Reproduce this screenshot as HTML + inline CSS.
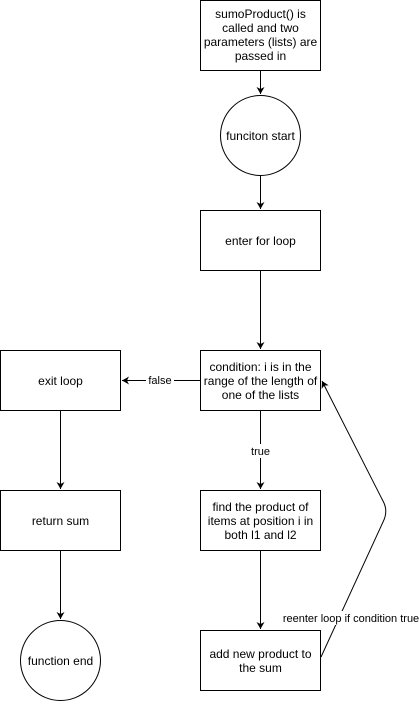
<!DOCTYPE html>
<html><head><style>html,body{margin:0;padding:0;background:#fff;}</style></head>
<body>
<svg width="419" height="701" xmlns="http://www.w3.org/2000/svg" font-family="Liberation Sans, Helvetica, Arial, sans-serif" font-size="12">
<defs>
<marker id="a" markerWidth="10" markerHeight="10" refX="8" refY="5" orient="auto" markerUnits="userSpaceOnUse">
<path d="M1,1 L8,5 L1,9 L3,5 Z" fill="#000"/>
</marker>
</defs>
<g fill="#fff" stroke="#000" stroke-width="1">
<rect x="200.5" y="0.5" width="120" height="70"/>
<circle cx="260.5" cy="135.5" r="40"/>
<rect x="200.5" y="210.5" width="120" height="60"/>
<rect x="200.5" y="350.5" width="120" height="60"/>
<rect x="0.5" y="350.5" width="120" height="60"/>
<rect x="0.5" y="490.5" width="120" height="60"/>
<circle cx="60.5" cy="660.5" r="40"/>
<rect x="200.5" y="490.5" width="120" height="60"/>
<rect x="200.5" y="630.5" width="120" height="60"/>
</g>
<g stroke="#000" stroke-width="1" fill="none" marker-end="url(#a)">
<line x1="260.5" y1="71" x2="260.5" y2="94"/>
<line x1="260.5" y1="176" x2="260.5" y2="209"/>
<line x1="260.5" y1="271" x2="260.5" y2="349"/>
<line x1="200" y1="380.5" x2="122" y2="380.5"/>
<line x1="60.5" y1="411" x2="60.5" y2="489"/>
<line x1="60.5" y1="551" x2="60.5" y2="619"/>
<line x1="260.5" y1="411" x2="260.5" y2="489"/>
<line x1="260.5" y1="551" x2="260.5" y2="629"/>
<path d="M321,657 L383,522 Q388,512 384,503 L322,381"/>
</g>
<g text-anchor="middle" fill="#000">
<text x="260.5" y="18">sumoProduct() is</text>
<text x="260.5" y="32">called and two</text>
<text x="260.5" y="46">parameters (lists) are</text>
<text x="260.5" y="60">passed in</text>
<text x="260.5" y="140">funciton start</text>
<text x="260.5" y="245">enter for loop</text>
<text x="260.5" y="371">condition: i is in the</text>
<text x="260.5" y="385">range of the length of</text>
<text x="260.5" y="399">one of the lists</text>
<text x="60.5" y="385">exit loop</text>
<text x="60.5" y="525">return sum</text>
<text x="60.5" y="665">function end</text>
<text x="260.5" y="511">find the product of</text>
<text x="260.5" y="525">items at position i in</text>
<text x="260.5" y="539">both l1 and l2</text>
<text x="260.5" y="658">add new product to</text>
<text x="260.5" y="672">the sum</text>
</g>
<g font-size="11" text-anchor="middle">
<rect x="146" y="373" width="28" height="14" fill="#fff"/>
<text x="160" y="384">false</text>
<rect x="248" y="444" width="26" height="14" fill="#fff"/>
<text x="260.5" y="455">true</text>
<rect x="283" y="611" width="136" height="14" fill="#fff"/>
<text x="351" y="622">reenter loop if condition true</text>
</g>
</svg>
</body></html>
